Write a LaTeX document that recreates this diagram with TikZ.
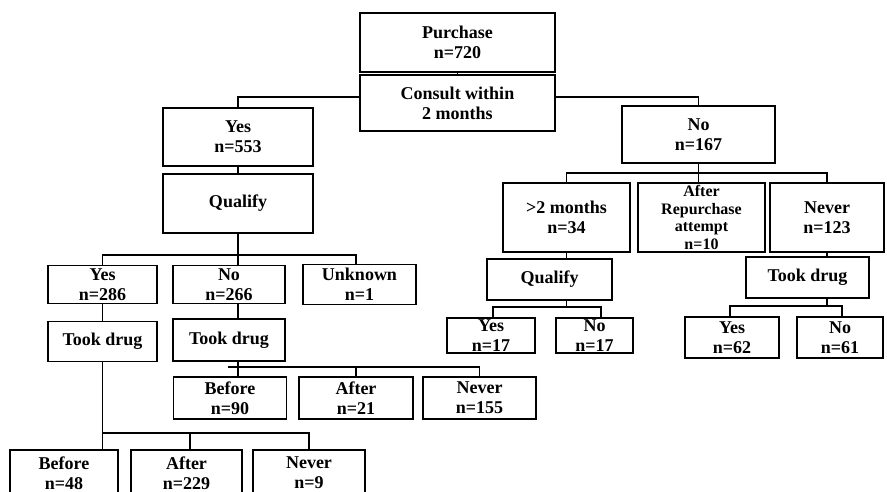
\documentclass[tikz,border=0pt]{standalone}
\usepackage{fontspec}
\setmainfont{Liberation Serif}
\usetikzlibrary{calc}
\tikzset{
    flow chart/.style = {x=1pt, y=-1pt, line width=1.8pt},
    box/.style        = {draw, line width=1.8pt, fill=white, align=center,
                         inner xsep=2pt, inner ysep=0pt,
                         font=\fontsize{18}{20}\selectfont\bfseries},
    small box/.style  = {box, font=\fontsize{16}{17.5}\selectfont\bfseries},
    boxsize/.style 2 args = {minimum width=#1pt, minimum height=#2pt}
}

\begin{document}
\begin{tikzpicture}[flow chart]
\clip (0,0) rectangle (887,492);

% Purchase and the two-month consultation split.
\node[box, boxsize={195}{59}] (purchase) at (457.5,42.5) {Purchase\\n=720};
\node[box, boxsize={195}{56}] (consult) at (457.5,103) {Consult within\\2 months};
\node[box, boxsize={150}{58}] (yesA) at (238,137) {Yes\\n=553};
\node[box, boxsize={150}{59}] (qualifyA) at (238,203.5) {Qualify};
\node[box, boxsize={153}{57}] (noA) at (698.5,134.5) {No\\n=167};
\draw (purchase) -- (consult);
\draw ([yshift=6pt]consult.west) -| (yesA.north);
\draw ([yshift=6pt]consult.east) -| (noA.north);
\draw (yesA) -- (qualifyA);

% Consulted within two months.
\node[box, boxsize={109}{38}] (yesB) at (102.5,284.5) {Yes\\n=286};
\node[box, boxsize={112}{38}] (noB) at (229,284.5) {No\\n=266};
\node[box, boxsize={113}{40}] (unknown) at (359.5,284.5) {Unknown\\n=1};
\node[box, boxsize={109}{40}] (tookB) at (102.5,341.5) {Took drug};
\node[box, boxsize={112}{42}] (tookC) at (229,340) {Took drug};
\coordinate (busA) at (0,255);
\draw (qualifyA.south) -- (noB.north -| qualifyA.south);
\draw (yesB.north) |- (busA -| qualifyA.south) -| ([xshift=-3.5pt]unknown.north);
\draw (yesB) -- (tookB);
\draw (noB.south -| qualifyA.south) -- (tookC.north -| qualifyA.south);

\node[box, boxsize={113}{42}] (beforeC) at (230,398) {Before\\n=90};
\node[box, boxsize={114}{42}] (afterC) at (356,398) {After\\n=21};
\node[box, boxsize={113}{42}] (neverC) at (479.5,398) {Never\\n=155};
\coordinate (busC) at (0,367);
\draw (tookC.south -| qualifyA.south) -- (beforeC.north -| qualifyA.south);
\draw ([xshift=-10pt]busC -| qualifyA.south) -- (busC -| neverC.north) -- (neverC.north);
\draw (busC -| afterC.north) -- (afterC.north);

\node[box, boxsize={108}{46}] (beforeB) at (64,473) {Before\\n=48};
\node[box, boxsize={111}{46}] (afterB) at (186.5,473) {After\\n=229};
\node[box, boxsize={112}{46}] (neverB) at (309,473) {Never\\n=9};
\coordinate (busB) at (0,433);
\draw (tookB.south) -- (beforeB.north -| tookB.south);
\draw (busB -| tookB.south) -- (busB -| neverB.north) -- (neverB.north);
\draw ([xshift=3.5pt]busB -| afterB.north) -- ([xshift=3.5pt]afterB.north);

% No consultation within two months.
\node[box, boxsize={127}{69}] (late) at (566.5,217.5) {>2 months\\n=34};
\node[small box, boxsize={127}{69}] (repurchase) at (701.5,217.5)
    {After\\Repurchase\\attempt\\n=10};
\node[box, boxsize={114}{69}] (neverA) at (827,217.5) {Never\\n=123};
\coordinate (busN) at (0,173);
\draw (noA.south) -- (repurchase.north -| noA.south);
\draw (late.north) |- (busN -| neverA.north) -- (neverA.north);

\node[box, boxsize={125}{41}] (qualifyB) at (549.5,279.5) {Qualify};
\node[box, boxsize={88}{35}] (yesQ) at (491,335.5) {Yes\\n=17};
\node[box, boxsize={77}{35}] (noQ) at (594.5,335.5) {No\\n=17};
\coordinate (busQ) at (0,307);
\draw (late.south) -- (qualifyB.north -| late.south);
\draw (qualifyB.south -| late.south) -- (busQ -| late.south);
\draw ([xshift=2pt]yesQ.north) |- ([xshift=6.5pt]busQ -| noQ.north)
    -- ([xshift=6.5pt]noQ.north);

\node[box, boxsize={123}{41}] (tookA) at (807.5,277.5) {Took drug};
\node[box, boxsize={94}{41}] (yesT) at (732,337.5) {Yes\\n=62};
\node[box, boxsize={86}{41}] (noT) at (840,337.5) {No\\n=61};
\coordinate (busT) at (0,306);
\draw (neverA.south) -- (tookA.north -| neverA.south);
\draw (tookA.south -| neverA.south) -- (busT -| neverA.south);
\draw ([xshift=-2pt]yesT.north) |- ([xshift=2pt]busT -| noT.north)
    -- ([xshift=2pt]noT.north);

\end{tikzpicture}
\end{document}
